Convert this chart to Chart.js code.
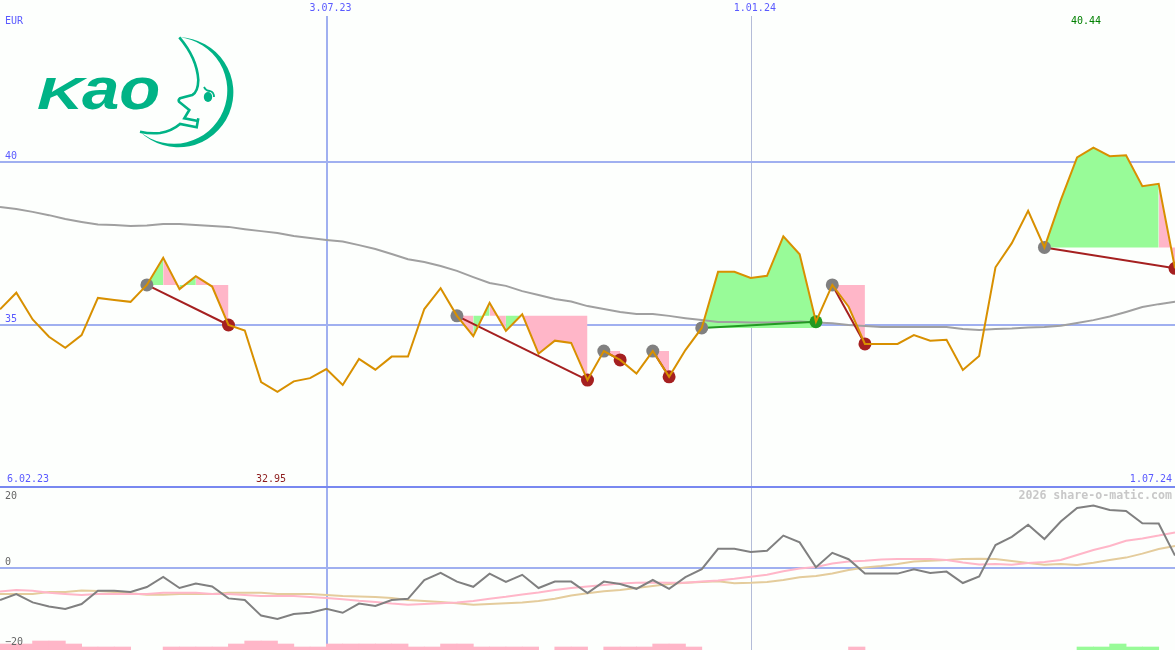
<!DOCTYPE html>
<html>
<head>
<meta charset="utf-8">
<title>Kao</title>
<script src="https://cdn.jsdelivr.net/npm/chart.js@4"></script>
<style>
html, body { margin: 0; padding: 0; background: #fdfffd; overflow: hidden; }
#wrap { position: relative; width: 1175px; height: 650px; }
#wrap canvas { position: absolute; left: 0; top: 0; }
#logo { position: absolute; left: 0; top: 0; }
</style>
</head>
<body>
<div id="wrap">
  <canvas id="chart" width="1175" height="650"></canvas>
  <svg id="logo" width="260" height="160" viewBox="0 0 260 160">
    <g font-family="Liberation Sans" font-weight="bold" font-style="italic" fill="#00b386">
      <text transform="translate(37,108.5) scale(1.46,1)" font-size="44">K</text>
      <text transform="translate(82,108.5) scale(1.12,1)" font-size="60">ao</text>
    </g>
    <path d="M179.3 37.3 A55 55 0 1 1 140 131.7 A53.4 53.4 0 1 0 179.3 37.3 Z" fill="#00b386"/>
    <path d="M179.3 37.3 Q197 58 198.3 80 Q198 92 192.3 95 Q185 97 180 98.3 Q178 100 179 101.7 L189.3 110 L184.3 118.3 L196.7 120.7 M198.3 118.3 L196.7 127.3 L180 124 Q172 131 160 133 Q150 134 140 131.7" fill="none" stroke="#00b386" stroke-width="2.6"/>
    <ellipse cx="208" cy="97" rx="4.2" ry="5" fill="#00b386"/>
    <path d="M204 87 Q206 91 210 91 Q214 92 214 97" fill="none" stroke="#00b386" stroke-width="1.8"/>
  </svg>
</div>
<script>
// weekly closes, EUR
const prices = [35.48, 35.99, 35.17, 34.64, 34.30, 34.69, 35.83, 35.77, 35.71, 36.23,
  37.06, 36.10, 36.50, 36.18, 35.00, 34.83, 33.25, 32.95, 33.27, 33.37,
  33.65, 33.16, 33.96, 33.63, 34.03, 34.03, 35.49, 36.13, 35.28, 34.66,
  35.68, 34.82, 35.33, 34.12, 34.52, 34.45, 33.31, 34.20, 33.93, 33.51,
  34.20, 33.41, 34.23, 34.91, 36.63, 36.63, 36.44, 36.51, 37.72, 37.17,
  35.10, 36.23, 35.56, 34.42, 34.42, 34.42, 34.69, 34.52, 34.55, 33.62,
  34.05, 36.77, 37.51, 38.50, 37.38, 38.83, 40.14, 40.44, 40.18, 40.21,
  39.26, 39.33, 36.74];

const movingAvg = [38.62, 38.56, 38.47, 38.37, 38.25, 38.16, 38.08, 38.07, 38.04, 38.05,
  38.10, 38.10, 38.07, 38.04, 38.01, 37.94, 37.88, 37.82, 37.73, 37.67,
  37.61, 37.56, 37.45, 37.33, 37.18, 37.02, 36.93, 36.81, 36.66, 36.47,
  36.29, 36.20, 36.04, 35.92, 35.80, 35.72, 35.58, 35.49, 35.40, 35.34,
  35.34, 35.28, 35.21, 35.15, 35.09, 35.09, 35.08, 35.08, 35.09, 35.11,
  35.08, 35.05, 35.00, 34.97, 34.94, 34.94, 34.94, 34.94, 34.94, 34.88,
  34.85, 34.88, 34.89, 34.92, 34.94, 34.98, 35.06, 35.15, 35.26, 35.40,
  35.55, 35.64, 35.71];

const momentum = [-8, -6.5, -8.6, -9.6, -10.25, -9, -5.67, -5.67, -6, -4.75,
  -2.25, -5, -3.9, -4.6, -7.6, -8, -11.9, -12.75, -11.5, -11.2,
  -10.2, -11.2, -8.9, -9.5, -8, -7.7, -3, -1.2, -3.4, -4.7,
  -1.4, -3.5, -1.7, -5, -3.4, -3.4, -6.25, -3.4, -4, -5.2,
  -3, -5.2, -2.3, -0.3, 4.8, 4.8, 4, 4.3, 8.1, 6.4,
  0.2, 3.8, 2.2, -1.4, -1.4, -1.4, -0.3, -1.25, -0.9, -3.75,
  -2.1, 5.75, 7.8, 10.8, 7.25, 11.6, 15, 15.6, 14.5, 14.25,
  11.2, 11.1, 3.1];

const fastAvg = [-5.9, -5.5, -5.7, -6.2, -6.5, -6.75, -6.5, -6.5, -6.5, -6.5,
  -6.2, -6.2, -6.2, -6.5, -6.5, -6.75, -7, -7, -7, -7.25,
  -7.5, -7.8, -8.2, -8.5, -8.9, -9.2, -9, -8.8, -8.6, -8.25,
  -7.7, -7.2, -6.6, -6.1, -5.5, -5, -4.6, -4.25, -3.9, -3.7,
  -3.6, -3.7, -3.7, -3.4, -3.1, -2.7, -2.2, -1.7, -0.8, -0.1,
  0.25, 1.1, 1.6, 1.8, 2.1, 2.25, 2.25, 2.25, 2, 1.4,
  0.9, 1, 0.8, 1.25, 1.5, 2, 3.25, 4.5, 5.5, 6.8,
  7.4, 8.1, 8.9];

const slowAvg = [-6.5, -6.5, -6.5, -6, -6, -5.6, -5.75, -6, -6.3, -6.7,
  -6.7, -6.5, -6.5, -6.5, -6.2, -6.2, -6.2, -6.5, -6.5, -6.5,
  -6.75, -7, -7.1, -7.25, -7.5, -8, -8.25, -8.5, -8.8, -9.2,
  -9, -8.8, -8.6, -8.25, -7.7, -6.9, -6.3, -5.8, -5.5, -5,
  -4.5, -4, -3.7, -3.5, -3.3, -3.8, -3.7, -3.5, -3, -2.3,
  -2, -1.4, -0.5, 0.1, 0.5, 1, 1.6, 1.8, 2, 2.25,
  2.3, 2.25, 1.75, 1.25, 0.8, 1, 0.75, 1.3, 2, 2.6,
  3.6, 4.75, 5.5];

// small bars along the bottom: pink counts negative weeks, green positive
const histLevels = [-2, -2, -3, -3, -2, -1, -1, -1, 0, 0,
  -1, -1, -1, -1, -2, -3, -3, -2, -1, -1,
  -2, -2, -2, -2, -2, -1, -1, -2, -2, -1,
  -1, -1, -1, 0, -1, -1, 0, -1, -1, -1,
  -2, -2, -1, 0, 0, 0, 0, 0, 0, 0,
  0, 0, -1, 0, 0, 0, 0, 0, 0, 0,
  0, 0, 0, 0, 0, 0, 1, 1, 2, 1,
  1, 0];

// entry week, exit week
const tradeStart = [9, 28, 37, 40, 43, 51, 64];
const tradeEnd = [14, 36, 38, 41, 50, 53, 72];

const xTicks = [20.04, 46.04];
const xTickLabels = ['3.07.23', '1.01.24'];
const priceTicks = [35, 40];
const priceTickLabels = ['35', '40'];
const lowerTicks = [0, 20.25];

const GREEN = '#98fb98', PINK = '#ffb6c8', RED = '#a52020', DKGREEN = '#229922';
const BLUE_TXT = '#5a5aff';
const BACK = '#fdfffd';

const pts = arr => arr.map((v, i) => ({ x: i, y: v }));

let datasets = [];

datasets.push({ label: 'price', data: pts(prices), borderColor: '#d89000', borderWidth: 2, pointRadius: 0, order: 1 });

tradeStart.forEach((s, t) => {
  const e = tradeEnd[t];
  const level = prices[s];
  const won = prices[e] > level;
  // shaded area between price and entry level, one dataset per run of same colour
  let runFrom = s;
  for (let i = s; i < e; i++) {
    const up = prices[i + 1] >= level;
    const nextUp = i + 2 <= e ? prices[i + 2] >= level : null;
    if (up !== nextUp) {
      datasets.push({
        data: pts(prices).slice(runFrom, i + 2),
        borderWidth: 0, pointRadius: 0,
        borderColor: 'transparent',
        backgroundColor: up ? GREEN : PINK,
        fill: { value: level },
        order: 8
      });
      runFrom = i + 1;
    }
  }
  datasets.push({
    data: [{ x: s, y: level }, { x: e, y: prices[e] }],
    borderColor: won ? DKGREEN : RED, borderWidth: 2, pointRadius: 0, order: 4
  });
  datasets.push({
    data: [{ x: s, y: level }], showLine: false, pointRadius: 6.5,
    pointBackgroundColor: '#808080', pointBorderWidth: 0, order: 3
  });
  datasets.push({
    data: [{ x: e, y: prices[e] }], showLine: false, pointRadius: 6.5,
    pointBackgroundColor: won ? DKGREEN : RED, pointBorderWidth: 0, order: 3
  });
});

datasets.push({ data: pts(movingAvg), borderColor: '#a0a0a0', borderWidth: 2, pointRadius: 0, order: 5 });

datasets.push({ data: pts(momentum), yAxisID: 'yLow', borderColor: '#808080', borderWidth: 2, pointRadius: 0, order: 1 });
datasets.push({ data: pts(fastAvg), yAxisID: 'yLow', borderColor: '#ffb6c8', borderWidth: 2, pointRadius: 0, order: 2 });
datasets.push({ data: pts(slowAvg), yAxisID: 'yLow', borderColor: '#e4cc9c', borderWidth: 2, pointRadius: 0, order: 3 });

const histPts = sign => histLevels
  .map((v, i) => ({ x: i + 0.5, y: Math.abs(v), on: v * sign > 0 }))
  .filter(p => p.on);

datasets.push({ type: 'bar', data: histPts(-1), yAxisID: 'yHist', backgroundColor: PINK, barThickness: 16.5, grouped: false, order: 9 });
datasets.push({ type: 'bar', data: histPts(1), yAxisID: 'yHist', backgroundColor: GREEN, barThickness: 16.5, grouped: false, order: 9 });

const labelsPlugin = {
  id: 'labels',
  afterDraw(chart) {
    const c = chart.ctx, sx = chart.scales.x, sy = chart.scales.y, sl = chart.scales.yLow;
    c.save();
    // date lines stop under their labels
    c.fillStyle = BACK;
    c.fillRect(0, 0, chart.width, 16);
    c.textBaseline = 'middle';
    c.font = "10px 'DejaVu Sans Mono'";
    const put = (txt, x, y, col, al) => {
      c.fillStyle = col;
      c.textAlign = al || 'left';
      c.fillText(txt, x, y);
    };
    xTicks.forEach((v, i) => put(xTickLabels[i], sx.getPixelForValue(v) + 3.5, 8, BLUE_TXT, 'center'));
    priceTicks.forEach((v, i) => put(priceTickLabels[i], 5, sy.getPixelForValue(v) - 6, BLUE_TXT));
    put('EUR', 5, 21, BLUE_TXT);
    put(Math.max(...prices).toFixed(2), 1071, 21, '#008000');
    put('6.02.23', 7, 479, BLUE_TXT);
    put(Math.min(...prices).toFixed(2), 256, 479, '#8c1c1c');
    put('1.07.24', 1172, 479, BLUE_TXT, 'right');
    put('20', 5, sl.getPixelForValue(20) + 8, '#666666');
    put('0', 5, sl.getPixelForValue(0) - 6, '#666666');
    put('\u221220', 5, sl.getPixelForValue(-20) - 6, '#666666');
    c.font = "bold 11.6px 'DejaVu Sans Mono'";
    put('2026 share-o-matic.com', 1172, 496, '#c8c8c8', 'right');
    c.restore();
  }
};

const hiddenTicks = { display: false };
const noBorder = { display: false };

new Chart(document.getElementById('chart'), {
  type: 'line',
  data: { datasets },
  plugins: [labelsPlugin],
  options: {
    responsive: false,
    animation: false,
    devicePixelRatio: 1,
    parsing: { xAxisKey: 'x', yAxisKey: 'y' },
    elements: { line: { tension: 0 } },
    layout: { padding: 0, autoPadding: false },
    plugins: { legend: { display: false }, tooltip: { enabled: false } },
    scales: {
      x: {
        type: 'linear', min: 0, max: 72, offset: false,
        ticks: hiddenTicks, border: noBorder,
        afterBuildTicks: s => { s.ticks = xTicks.map(v => ({ value: v })); },
        grid: {
          offset: false,
          drawTicks: false,
          color: c => c.tick && c.tick.value === xTicks[1] ? '#b4bcd8' : '#a0b0f0',
          lineWidth: c => c.tick && c.tick.value === xTicks[1] ? 1 : 2
        }
      },
      // all three y scales span the whole canvas, ranges keep each panel in its band
      y: {
        min: 25.03, max: 44.97,
        ticks: hiddenTicks, border: noBorder,
        afterBuildTicks: s => { s.ticks = priceTicks.map(v => ({ value: v })); },
        grid: { drawTicks: false, color: '#a0b0f0', lineWidth: 2 }
      },
      yLow: {
        min: -20.5, max: 142,
        ticks: hiddenTicks, border: noBorder,
        afterBuildTicks: s => { s.ticks = lowerTicks.map(v => ({ value: v })); },
        grid: {
          drawTicks: false,
          color: c => c.tick && c.tick.value === 0 ? '#a0b0f0' : '#7888f0',
          lineWidth: 2
        }
      },
      yHist: {
        min: 0, max: 216.67,
        display: false
      }
    }
  }
});
</script>
</body>
</html>
